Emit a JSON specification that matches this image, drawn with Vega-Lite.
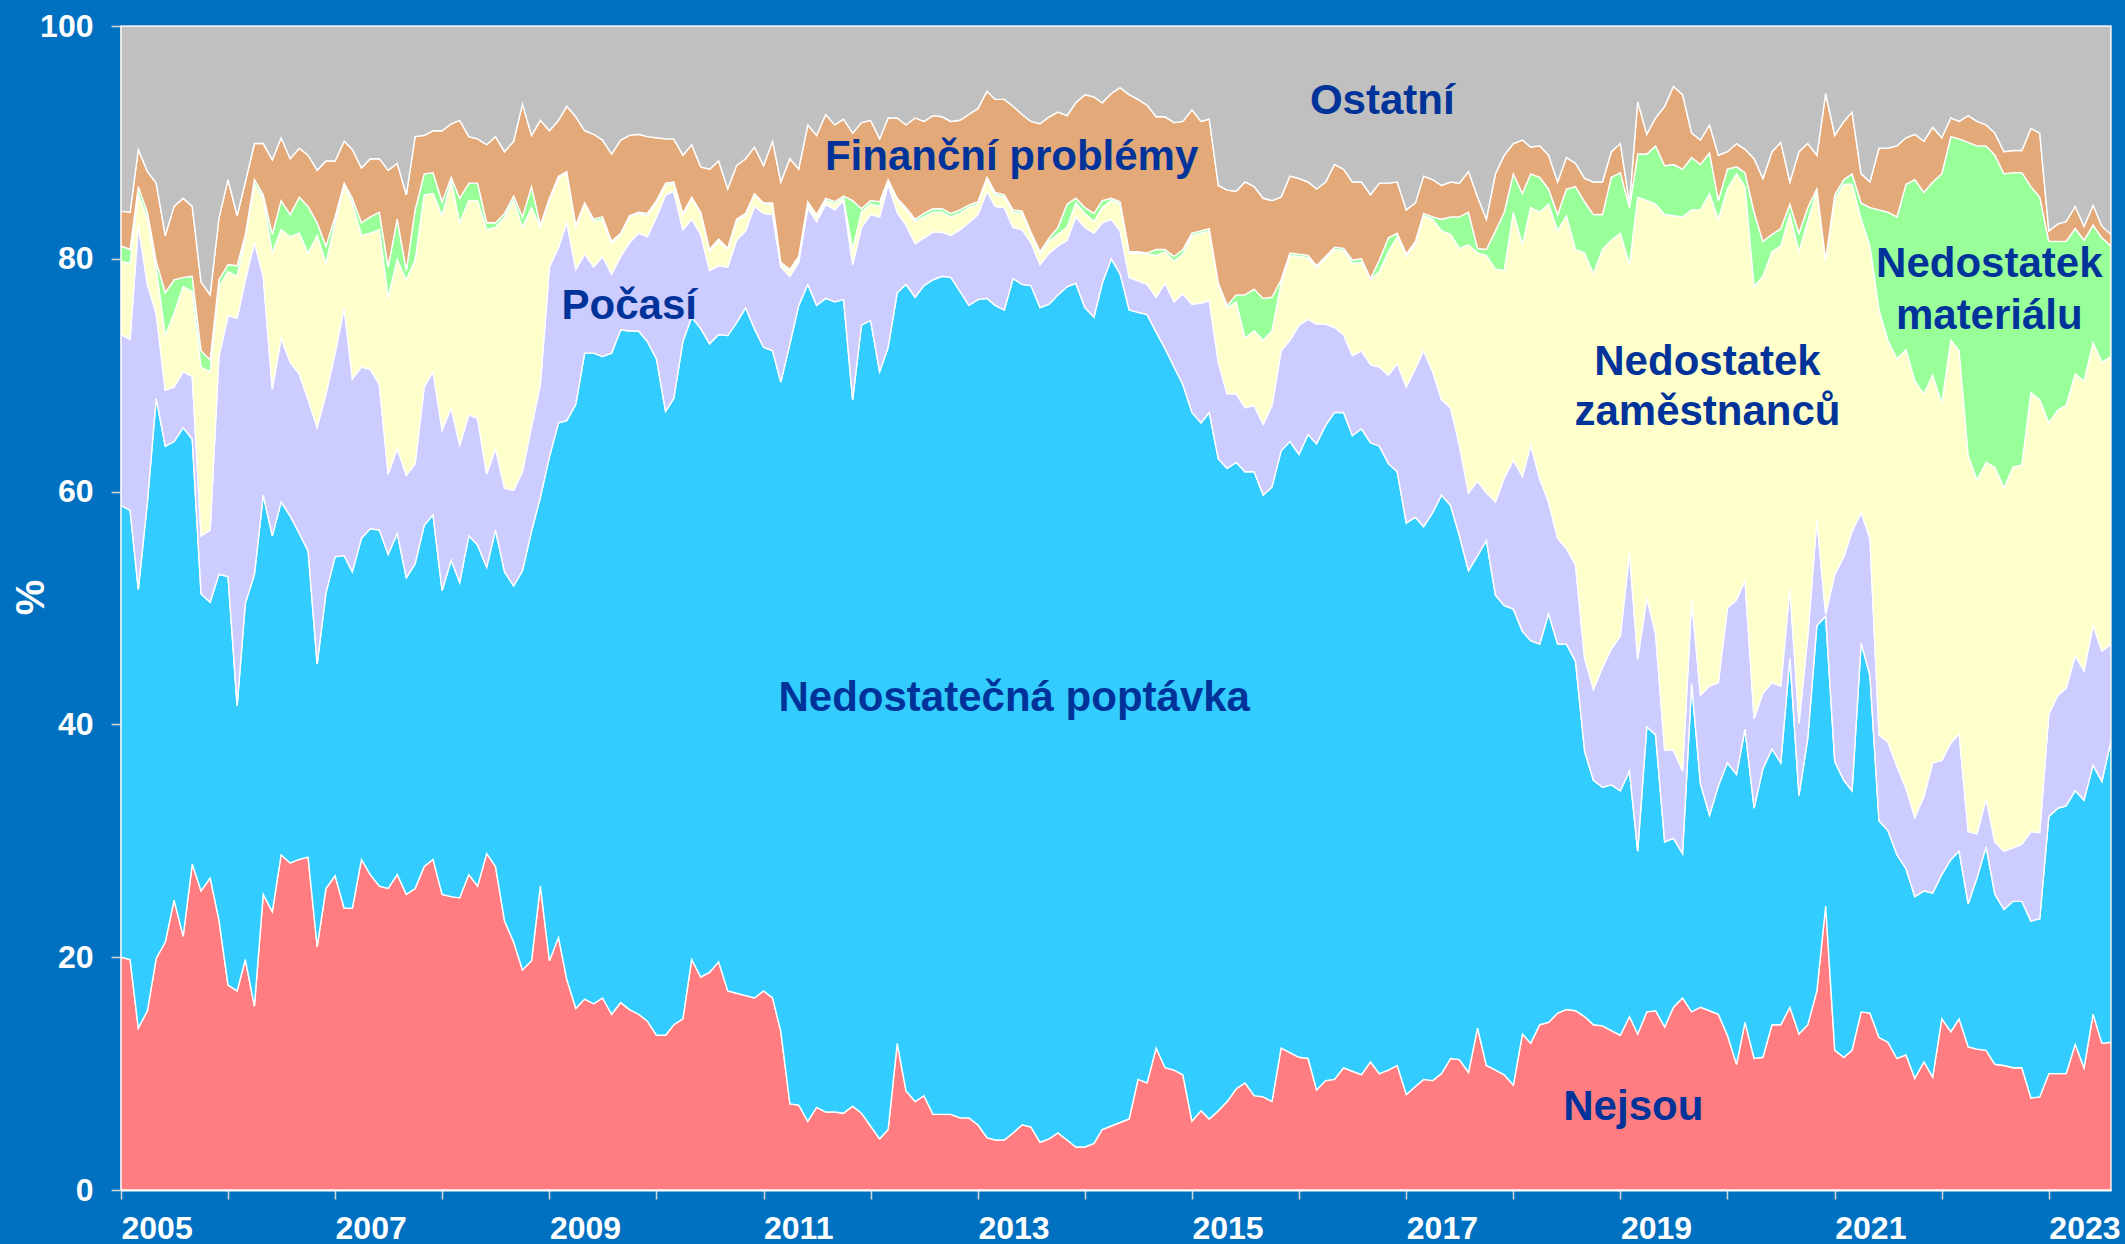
{
  "$schema": "https://vega.github.io/schema/vega-lite/v6.json",
  "width": 1990,
  "height": 1164,
  "autosize": {"type": "none"},
  "padding": {"left": 121, "top": 26, "right": 14, "bottom": 54},
  "background": "#0070C0",
  "config": {"view": {"stroke": "#E6E6E6", "strokeWidth": 1.5}, "font": "Liberation Sans"},
  "layer": [
    {
      "data": {"values": [
{"t":"2005-01-01","a":20.0,"b":38.8,"c":14.7,"d":6.3,"e":1.3,"f":3.0,"g":15.9},
{"t":"2005-02-01","a":19.8,"b":38.6,"c":14.7,"d":6.5,"e":1.2,"f":3.2,"g":16.0},
{"t":"2005-03-01","a":13.9,"b":37.7,"c":31.3,"d":2.7,"e":0.6,"f":3.2,"g":10.6},
{"t":"2005-04-01","a":15.4,"b":43.7,"c":18.7,"d":5.6,"e":0.6,"f":3.5,"g":12.5},
{"t":"2005-05-01","a":19.9,"b":48.1,"c":7.3,"d":3.9,"e":0.6,"f":6.7,"g":13.5},
{"t":"2005-06-01","a":21.3,"b":42.6,"c":4.8,"d":4.7,"e":3.7,"f":4.9,"g":18.0},
{"t":"2005-07-01","a":24.9,"b":39.4,"c":4.7,"d":6.3,"e":2.9,"f":6.3,"g":15.5},
{"t":"2005-08-01","a":21.8,"b":43.7,"c":4.8,"d":7.3,"e":0.8,"f":6.8,"g":14.8},
{"t":"2005-09-01","a":28.0,"b":36.5,"c":5.4,"d":7.3,"e":1.3,"f":6.0,"g":15.5},
{"t":"2005-10-01","a":25.7,"b":25.5,"c":5.0,"d":14.5,"e":1.4,"f":5.9,"g":22.0},
{"t":"2005-11-01","a":26.8,"b":23.7,"c":6.2,"d":13.6,"e":1.0,"f":5.6,"g":23.1},
{"t":"2005-12-01","a":23.2,"b":29.7,"c":18.7,"d":6.0,"e":0.6,"f":5.3,"g":16.5},
{"t":"2006-01-01","a":17.6,"b":35.1,"c":22.4,"d":3.8,"e":0.6,"f":7.3,"g":13.2},
{"t":"2006-02-01","a":17.1,"b":24.5,"c":33.3,"d":3.6,"e":0.9,"f":4.3,"g":16.3},
{"t":"2006-03-01","a":19.8,"b":30.6,"c":27.8,"d":3.6,"e":0.3,"f":4.5,"g":13.4},
{"t":"2006-04-01","a":15.8,"b":37.1,"c":28.5,"d":5.0,"e":0.4,"f":3.1,"g":10.1},
{"t":"2006-05-01","a":25.4,"b":34.3,"c":18.8,"d":6.7,"e":0.3,"f":4.4,"g":10.1},
{"t":"2006-06-01","a":23.9,"b":32.3,"c":12.6,"d":11.7,"e":1.6,"f":6.4,"g":11.5},
{"t":"2006-07-01","a":28.8,"b":30.3,"c":14.1,"d":9.3,"e":2.5,"f":5.4,"g":9.6},
{"t":"2006-08-01","a":28.1,"b":29.8,"c":13.2,"d":10.8,"e":1.9,"f":4.8,"g":11.4},
{"t":"2006-09-01","a":28.4,"b":28.0,"c":13.7,"d":12.1,"e":3.1,"f":4.2,"g":10.5},
{"t":"2006-10-01","a":28.6,"b":26.3,"c":13.0,"d":12.6,"e":4.0,"f":4.4,"g":11.1},
{"t":"2006-11-01","a":20.9,"b":24.3,"c":20.3,"d":16.5,"e":1.1,"f":4.5,"g":12.4},
{"t":"2006-12-01","a":25.9,"b":25.4,"c":17.1,"d":11.2,"e":1.5,"f":7.3,"g":11.6},
{"t":"2007-01-01","a":27.0,"b":27.4,"c":17.5,"d":11.2,"e":0.5,"f":4.8,"g":11.6},
{"t":"2007-02-01","a":24.2,"b":30.3,"c":21.3,"d":10.5,"e":0.2,"f":3.6,"g":9.9},
{"t":"2007-03-01","a":24.2,"b":28.9,"c":16.6,"d":15.1,"e":0.4,"f":4.2,"g":10.6},
{"t":"2007-04-01","a":28.4,"b":27.6,"c":14.7,"d":11.3,"e":1.1,"f":4.7,"g":12.2},
{"t":"2007-05-01","a":27.1,"b":29.7,"c":13.7,"d":11.7,"e":1.4,"f":5.0,"g":11.4},
{"t":"2007-06-01","a":26.1,"b":30.6,"c":12.5,"d":13.3,"e":1.5,"f":4.6,"g":11.4},
{"t":"2007-07-01","a":25.9,"b":28.7,"c":6.9,"d":15.2,"e":2.6,"f":8.3,"g":12.4},
{"t":"2007-08-01","a":27.1,"b":29.3,"c":7.3,"d":16.2,"e":3.5,"f":4.8,"g":11.8},
{"t":"2007-09-01","a":25.4,"b":27.2,"c":8.8,"d":16.8,"e":0.8,"f":6.5,"g":14.5},
{"t":"2007-10-01","a":25.9,"b":27.9,"c":8.6,"d":17.5,"e":4.3,"f":6.3,"g":9.5},
{"t":"2007-11-01","a":27.8,"b":29.3,"c":11.9,"d":16.5,"e":1.8,"f":3.3,"g":9.4},
{"t":"2007-12-01","a":28.4,"b":29.6,"c":12.3,"d":15.3,"e":1.8,"f":3.6,"g":9.0},
{"t":"2008-01-01","a":25.4,"b":26.1,"c":13.8,"d":18.4,"e":1.2,"f":6.1,"g":9.0},
{"t":"2008-02-01","a":25.2,"b":28.9,"c":13.1,"d":19.5,"e":0.3,"f":4.6,"g":8.4},
{"t":"2008-03-01","a":25.1,"b":27.1,"c":11.8,"d":19.1,"e":2.1,"f":6.7,"g":8.1},
{"t":"2008-04-01","a":27.1,"b":29.1,"c":10.4,"d":18.4,"e":1.5,"f":4.0,"g":9.5},
{"t":"2008-05-01","a":26.1,"b":29.3,"c":10.9,"d":18.7,"e":1.5,"f":3.8,"g":9.7},
{"t":"2008-06-01","a":28.9,"b":24.6,"c":8.0,"d":21.0,"e":0.6,"f":6.7,"g":10.2},
{"t":"2008-07-01","a":27.8,"b":28.9,"c":7.0,"d":19.0,"e":0.4,"f":7.4,"g":9.5},
{"t":"2008-08-01","a":23.1,"b":30.0,"c":7.2,"d":23.3,"e":0.3,"f":5.3,"g":10.8},
{"t":"2008-09-01","a":21.3,"b":30.6,"c":8.2,"d":24.9,"e":0.4,"f":4.7,"g":9.9},
{"t":"2008-10-01","a":18.9,"b":34.3,"c":8.5,"d":21.0,"e":0.9,"f":9.7,"g":6.7},
{"t":"2008-11-01","a":19.7,"b":36.9,"c":9.0,"d":18.8,"e":1.8,"f":4.4,"g":9.4},
{"t":"2008-12-01","a":26.1,"b":33.4,"c":9.7,"d":13.5,"e":0.2,"f":9.0,"g":8.1},
{"t":"2009-01-01","a":19.7,"b":43.3,"c":16.3,"d":5.7,"e":0.2,"f":5.8,"g":9.0},
{"t":"2009-02-01","a":21.7,"b":44.2,"c":15.1,"d":5.9,"e":0.2,"f":4.8,"g":8.1},
{"t":"2009-03-01","a":18.1,"b":48.0,"c":17.0,"d":4.3,"e":0.1,"f":5.6,"g":6.9},
{"t":"2009-04-01","a":15.6,"b":51.9,"c":11.6,"d":3.6,"e":0.2,"f":9.3,"g":7.8},
{"t":"2009-05-01","a":16.4,"b":55.5,"c":8.5,"d":4.3,"e":0.1,"f":6.2,"g":9.0},
{"t":"2009-06-01","a":16.0,"b":55.9,"c":7.4,"d":3.9,"e":0.2,"f":7.3,"g":9.3},
{"t":"2009-07-01","a":16.5,"b":55.1,"c":8.6,"d":3.2,"e":0.2,"f":6.6,"g":9.8},
{"t":"2009-08-01","a":15.1,"b":56.8,"c":6.8,"d":2.6,"e":0.2,"f":7.5,"g":11.0},
{"t":"2009-09-01","a":16.1,"b":57.8,"c":6.3,"d":1.9,"e":0.1,"f":8.0,"g":9.8},
{"t":"2009-10-01","a":15.5,"b":58.3,"c":7.6,"d":2.2,"e":0.1,"f":6.9,"g":9.4},
{"t":"2009-11-01","a":15.1,"b":58.7,"c":8.4,"d":1.7,"e":0.1,"f":6.7,"g":9.3},
{"t":"2009-12-01","a":14.5,"b":58.4,"c":9.0,"d":1.8,"e":0.2,"f":6.6,"g":9.5},
{"t":"2010-01-01","a":13.3,"b":58.1,"c":12.2,"d":1.2,"e":0.2,"f":5.4,"g":9.6},
{"t":"2010-02-01","a":13.3,"b":53.6,"c":18.6,"d":0.8,"e":0.2,"f":3.8,"g":9.7},
{"t":"2010-03-01","a":14.2,"b":53.8,"c":17.8,"d":0.7,"e":0.1,"f":3.7,"g":9.7},
{"t":"2010-04-01","a":14.7,"b":58.2,"c":9.6,"d":1.2,"e":0.2,"f":5.0,"g":11.1},
{"t":"2010-05-01","a":19.8,"b":55.2,"c":8.4,"d":1.8,"e":0.1,"f":4.5,"g":10.2},
{"t":"2010-06-01","a":18.3,"b":55.7,"c":8.1,"d":1.8,"e":0.1,"f":3.9,"g":12.1},
{"t":"2010-07-01","a":18.7,"b":54.0,"c":6.3,"d":1.6,"e":0.2,"f":6.9,"g":12.3},
{"t":"2010-08-01","a":19.6,"b":53.9,"c":5.9,"d":2.1,"e":0.2,"f":6.7,"g":11.6},
{"t":"2010-09-01","a":17.1,"b":56.3,"c":5.9,"d":1.5,"e":0.1,"f":5.1,"g":14.0},
{"t":"2010-10-01","a":16.9,"b":57.6,"c":7.1,"d":1.7,"e":0.1,"f":4.6,"g":12.0},
{"t":"2010-11-01","a":16.7,"b":59.1,"c":6.6,"d":1.3,"e":0.2,"f":4.7,"g":11.4},
{"t":"2010-12-01","a":16.5,"b":57.5,"c":10.5,"d":1.0,"e":0.1,"f":4.0,"g":10.4},
{"t":"2011-01-01","a":17.1,"b":55.3,"c":11.5,"d":0.8,"e":0.1,"f":3.2,"g":12.0},
{"t":"2011-02-01","a":16.5,"b":55.6,"c":11.7,"d":0.9,"e":0.1,"f":5.3,"g":9.9},
{"t":"2011-03-01","a":13.6,"b":55.8,"c":9.9,"d":0.2,"e":0.2,"f":6.9,"g":13.4},
{"t":"2011-04-01","a":7.4,"b":65.3,"c":5.8,"d":0.4,"e":0.2,"f":9.5,"g":11.4},
{"t":"2011-05-01","a":7.3,"b":68.7,"c":3.7,"d":0.3,"e":0.2,"f":7.5,"g":12.3},
{"t":"2011-06-01","a":5.9,"b":71.9,"c":6.6,"d":0.3,"e":0.2,"f":6.6,"g":8.5},
{"t":"2011-07-01","a":7.1,"b":68.9,"c":7.2,"d":0.4,"e":0.2,"f":6.8,"g":9.4},
{"t":"2011-08-01","a":6.7,"b":69.9,"c":8.1,"d":0.3,"e":0.2,"f":7.2,"g":7.6},
{"t":"2011-09-01","a":6.7,"b":69.6,"c":7.9,"d":0.5,"e":0.2,"f":6.6,"g":8.5},
{"t":"2011-10-01","a":6.6,"b":69.9,"c":8.5,"d":0.2,"e":0.2,"f":6.6,"g":8.0},
{"t":"2011-11-01","a":7.2,"b":60.7,"c":11.6,"d":1.3,"e":4.2,"f":5.8,"g":9.2},
{"t":"2011-12-01","a":6.6,"b":67.7,"c":8.4,"d":1.3,"e":0.3,"f":7.4,"g":8.3},
{"t":"2012-01-01","a":5.5,"b":69.2,"c":9.1,"d":0.9,"e":0.3,"f":6.9,"g":8.1},
{"t":"2012-02-01","a":4.4,"b":65.9,"c":13.3,"d":0.9,"e":0.4,"f":5.4,"g":9.7},
{"t":"2012-03-01","a":5.2,"b":67.2,"c":14.0,"d":0.2,"e":0.2,"f":5.3,"g":7.9},
{"t":"2012-04-01","a":12.6,"b":64.5,"c":6.9,"d":1.0,"e":0.2,"f":6.9,"g":7.9},
{"t":"2012-05-01","a":8.5,"b":69.3,"c":5.1,"d":1.3,"e":0.2,"f":7.1,"g":8.5},
{"t":"2012-06-01","a":7.6,"b":69.1,"c":4.6,"d":1.9,"e":0.2,"f":8.7,"g":7.9},
{"t":"2012-07-01","a":8.1,"b":69.6,"c":4.1,"d":1.8,"e":0.3,"f":7.9,"g":8.2},
{"t":"2012-08-01","a":6.5,"b":71.7,"c":4.1,"d":1.7,"e":0.3,"f":8.0,"g":7.7},
{"t":"2012-09-01","a":6.5,"b":72.0,"c":3.8,"d":1.7,"e":0.3,"f":7.9,"g":7.8},
{"t":"2012-10-01","a":6.5,"b":71.9,"c":3.6,"d":1.6,"e":0.3,"f":7.9,"g":8.2},
{"t":"2012-11-01","a":6.2,"b":71.0,"c":5.3,"d":1.4,"e":0.3,"f":7.7,"g":8.1},
{"t":"2012-12-01","a":6.2,"b":69.8,"c":7.1,"d":1.3,"e":0.2,"f":7.8,"g":7.6},
{"t":"2013-01-01","a":5.6,"b":70.9,"c":7.3,"d":0.9,"e":0.2,"f":8.0,"g":7.1},
{"t":"2013-02-01","a":4.5,"b":72.1,"c":9.2,"d":1.0,"e":0.2,"f":7.4,"g":5.6},
{"t":"2013-03-01","a":4.3,"b":71.7,"c":8.5,"d":1.0,"e":0.2,"f":8.0,"g":6.3},
{"t":"2013-04-01","a":4.3,"b":71.3,"c":8.8,"d":0.9,"e":0.2,"f":8.2,"g":6.3},
{"t":"2013-05-01","a":4.9,"b":73.4,"c":4.4,"d":1.3,"e":0.2,"f":8.9,"g":6.9},
{"t":"2013-06-01","a":5.6,"b":72.2,"c":4.7,"d":1.4,"e":0.2,"f":8.3,"g":7.6},
{"t":"2013-07-01","a":5.4,"b":72.3,"c":3.7,"d":0.7,"e":0.2,"f":9.5,"g":8.2},
{"t":"2013-08-01","a":4.1,"b":71.7,"c":3.7,"d":0.9,"e":0.2,"f":11.0,"g":8.4},
{"t":"2013-09-01","a":4.4,"b":71.7,"c":4.4,"d":1.0,"e":0.3,"f":10.4,"g":7.8},
{"t":"2013-10-01","a":4.9,"b":72.0,"c":4.2,"d":1.0,"e":0.6,"f":9.9,"g":7.4},
{"t":"2013-11-01","a":4.3,"b":73.3,"c":4.0,"d":1.1,"e":2.0,"f":7.6,"g":7.7},
{"t":"2013-12-01","a":3.7,"b":74.2,"c":5.7,"d":1.2,"e":0.4,"f":8.2,"g":6.6},
{"t":"2014-01-01","a":3.7,"b":72.1,"c":6.9,"d":1.2,"e":0.5,"f":9.7,"g":5.9},
{"t":"2014-02-01","a":4.0,"b":71.0,"c":7.2,"d":1.0,"e":0.7,"f":10.0,"g":6.1},
{"t":"2014-03-01","a":5.2,"b":72.7,"c":5.2,"d":1.3,"e":0.6,"f":8.4,"g":6.6},
{"t":"2014-04-01","a":5.5,"b":74.5,"c":3.4,"d":1.6,"e":0.2,"f":9.0,"g":5.8},
{"t":"2014-05-01","a":5.8,"b":72.9,"c":3.7,"d":2.3,"e":0.2,"f":9.8,"g":5.3},
{"t":"2014-06-01","a":6.1,"b":69.5,"c":2.8,"d":2.1,"e":0.1,"f":13.5,"g":5.9},
{"t":"2014-07-01","a":9.5,"b":65.9,"c":2.7,"d":2.4,"e":0.1,"f":13.1,"g":6.3},
{"t":"2014-08-01","a":9.2,"b":66.0,"c":2.6,"d":2.6,"e":0.1,"f":12.7,"g":6.8},
{"t":"2014-09-01","a":12.2,"b":61.5,"c":3.0,"d":3.6,"e":0.5,"f":11.4,"g":7.8},
{"t":"2014-10-01","a":10.5,"b":61.8,"c":5.6,"d":2.7,"e":0.2,"f":11.4,"g":7.8},
{"t":"2014-11-01","a":10.3,"b":60.4,"c":5.6,"d":3.5,"e":0.4,"f":11.5,"g":8.3},
{"t":"2014-12-01","a":9.9,"b":59.3,"c":7.8,"d":3.4,"e":0.4,"f":11.0,"g":8.2},
{"t":"2015-01-01","a":5.9,"b":60.9,"c":9.3,"d":5.9,"e":0.2,"f":10.6,"g":7.2},
{"t":"2015-02-01","a":6.8,"b":59.1,"c":10.3,"d":6.0,"e":0.2,"f":9.4,"g":8.2},
{"t":"2015-03-01","a":6.1,"b":60.7,"c":9.6,"d":6.0,"e":0.2,"f":9.4,"g":8.0},
{"t":"2015-04-01","a":6.8,"b":56.0,"c":8.3,"d":6.7,"e":0.1,"f":8.4,"g":13.7},
{"t":"2015-05-01","a":7.6,"b":54.4,"c":6.4,"d":7.4,"e":0.2,"f":9.9,"g":14.1},
{"t":"2015-06-01","a":8.7,"b":53.8,"c":5.9,"d":7.9,"e":0.6,"f":8.9,"g":14.2},
{"t":"2015-07-01","a":9.2,"b":52.5,"c":5.5,"d":6.0,"e":3.7,"f":9.7,"g":13.4},
{"t":"2015-08-01","a":8.1,"b":53.6,"c":5.7,"d":6.4,"e":3.6,"f":8.8,"g":13.8},
{"t":"2015-09-01","a":8.0,"b":51.7,"c":6.1,"d":7.2,"e":3.6,"f":8.6,"g":14.8},
{"t":"2015-10-01","a":7.6,"b":52.8,"c":7.0,"d":6.4,"e":2.9,"f":8.3,"g":15.0},
{"t":"2015-11-01","a":12.2,"b":51.3,"c":8.6,"d":5.8,"e":0.3,"f":7.1,"g":14.7},
{"t":"2015-12-01","a":11.8,"b":52.5,"c":8.7,"d":7.3,"e":0.2,"f":6.6,"g":12.9},
{"t":"2016-01-01","a":11.4,"b":51.8,"c":11.1,"d":5.9,"e":0.2,"f":6.5,"g":13.1},
{"t":"2016-02-01","a":11.3,"b":53.6,"c":9.9,"d":5.3,"e":0.2,"f":6.3,"g":13.4},
{"t":"2016-03-01","a":8.6,"b":55.5,"c":10.3,"d":4.8,"e":0.2,"f":6.6,"g":14.0},
{"t":"2016-04-01","a":9.4,"b":56.3,"c":8.7,"d":5.6,"e":0.2,"f":6.4,"g":13.4},
{"t":"2016-05-01","a":9.5,"b":57.3,"c":7.3,"d":6.7,"e":0.2,"f":7.1,"g":11.9},
{"t":"2016-06-01","a":10.5,"b":56.3,"c":6.7,"d":7.2,"e":0.2,"f":6.8,"g":12.3},
{"t":"2016-07-01","a":10.2,"b":54.6,"c":6.9,"d":7.9,"e":0.3,"f":6.7,"g":13.4},
{"t":"2016-08-01","a":9.9,"b":55.5,"c":6.7,"d":7.6,"e":0.3,"f":6.6,"g":13.4},
{"t":"2016-09-01","a":11.0,"b":53.2,"c":6.7,"d":7.3,"e":0.1,"f":7.2,"g":14.5},
{"t":"2016-10-01","a":10.0,"b":53.9,"c":6.8,"d":8.2,"e":1.0,"f":6.6,"g":13.5},
{"t":"2016-11-01","a":10.3,"b":52.1,"c":7.6,"d":10.6,"e":1.2,"f":4.7,"g":13.5},
{"t":"2016-12-01","a":10.7,"b":51.0,"c":9.3,"d":10.9,"e":0.3,"f":4.4,"g":13.4},
{"t":"2017-01-01","a":8.2,"b":49.1,"c":11.7,"d":11.2,"e":0.2,"f":3.8,"g":15.8},
{"t":"2017-02-01","a":8.9,"b":48.9,"c":12.8,"d":10.7,"e":0.2,"f":3.3,"g":15.2},
{"t":"2017-03-01","a":9.5,"b":47.5,"c":15.1,"d":11.6,"e":0.2,"f":3.2,"g":12.9},
{"t":"2017-04-01","a":9.4,"b":48.8,"c":12.1,"d":13.1,"e":0.2,"f":3.2,"g":13.2},
{"t":"2017-05-01","a":10.0,"b":49.7,"c":8.2,"d":14.5,"e":1.0,"f":2.9,"g":13.7},
{"t":"2017-06-01","a":11.3,"b":47.5,"c":8.4,"d":14.9,"e":1.5,"f":3.0,"g":13.4},
{"t":"2017-07-01","a":11.2,"b":45.0,"c":7.8,"d":16.9,"e":2.7,"f":2.9,"g":13.5},
{"t":"2017-08-01","a":10.1,"b":43.1,"c":6.7,"d":21.3,"e":2.8,"f":3.5,"g":12.5},
{"t":"2017-09-01","a":13.9,"b":40.6,"c":6.4,"d":19.6,"e":0.4,"f":4.4,"g":14.7},
{"t":"2017-10-01","a":10.7,"b":45.1,"c":4.1,"d":20.4,"e":0.5,"f":2.6,"g":16.6},
{"t":"2017-11-01","a":10.3,"b":40.8,"c":8.0,"d":20.0,"e":3.3,"f":4.9,"g":12.7},
{"t":"2017-12-01","a":9.9,"b":40.3,"c":11.0,"d":17.8,"e":5.0,"f":4.9,"g":11.1},
{"t":"2018-01-01","a":9.0,"b":40.9,"c":12.8,"d":21.3,"e":3.3,"f":2.6,"g":10.1},
{"t":"2018-02-01","a":13.4,"b":34.6,"c":13.3,"d":19.9,"e":4.4,"f":4.6,"g":9.8},
{"t":"2018-03-01","a":12.6,"b":34.6,"c":16.8,"d":20.4,"e":2.9,"f":2.3,"g":10.4},
{"t":"2018-04-01","a":14.2,"b":32.7,"c":14.2,"d":22.9,"e":3.0,"f":2.7,"g":10.3},
{"t":"2018-05-01","a":14.4,"b":35.1,"c":9.6,"d":25.6,"e":1.3,"f":2.9,"g":11.1},
{"t":"2018-06-01","a":15.2,"b":31.7,"c":9.1,"d":26.4,"e":1.4,"f":2.8,"g":13.4},
{"t":"2018-07-01","a":15.5,"b":31.4,"c":8.2,"d":28.6,"e":2.3,"f":2.7,"g":11.3},
{"t":"2018-08-01","a":15.4,"b":30.0,"c":8.3,"d":27.1,"e":5.4,"f":2.0,"g":11.8},
{"t":"2018-09-01","a":14.9,"b":22.8,"c":8.0,"d":34.8,"e":4.4,"f":2.0,"g":13.1},
{"t":"2018-10-01","a":14.2,"b":21.0,"c":7.8,"d":35.7,"e":5.1,"f":2.8,"g":13.4},
{"t":"2018-11-01","a":14.1,"b":20.5,"c":10.3,"d":35.9,"e":3.0,"f":2.8,"g":13.4},
{"t":"2018-12-01","a":13.7,"b":21.1,"c":11.7,"d":35.1,"e":5.4,"f":2.2,"g":10.8},
{"t":"2019-01-01","a":13.3,"b":21.0,"c":13.3,"d":34.6,"e":5.2,"f":2.5,"g":10.1},
{"t":"2019-02-01","a":14.9,"b":21.1,"c":18.8,"d":24.7,"e":4.9,"f":0.4,"g":15.2},
{"t":"2019-03-01","a":13.4,"b":15.7,"c":16.5,"d":39.7,"e":3.7,"f":4.5,"g":6.5},
{"t":"2019-04-01","a":15.3,"b":24.5,"c":11.1,"d":34.1,"e":4.0,"f":1.7,"g":9.3},
{"t":"2019-05-01","a":15.4,"b":23.7,"c":8.7,"d":36.9,"e":5.0,"f":2.4,"g":7.9},
{"t":"2019-06-01","a":14.0,"b":15.9,"c":7.9,"d":46.0,"e":4.2,"f":5.1,"g":6.9},
{"t":"2019-07-01","a":15.7,"b":14.5,"c":7.6,"d":45.9,"e":4.4,"f":6.7,"g":5.2},
{"t":"2019-08-01","a":16.5,"b":12.4,"c":7.1,"d":47.6,"e":4.1,"f":6.4,"g":5.9},
{"t":"2019-09-01","a":15.3,"b":28.2,"c":7.2,"d":33.5,"e":4.5,"f":2.1,"g":9.2},
{"t":"2019-10-01","a":15.7,"b":19.2,"c":7.6,"d":41.7,"e":3.9,"f":2.1,"g":9.8},
{"t":"2019-11-01","a":15.4,"b":16.8,"c":11.1,"d":42.3,"e":3.5,"f":2.4,"g":8.5},
{"t":"2019-12-01","a":15.1,"b":19.6,"c":8.9,"d":39.8,"e":1.6,"f":3.9,"g":11.1},
{"t":"2020-01-01","a":13.3,"b":23.4,"c":13.3,"d":36.0,"e":1.7,"f":1.5,"g":10.8},
{"t":"2020-02-01","a":10.8,"b":24.9,"c":15.0,"d":36.6,"e":0.6,"f":2.0,"g":10.1},
{"t":"2020-03-01","a":14.4,"b":25.2,"c":12.8,"d":33.8,"e":1.2,"f":2.0,"g":10.6},
{"t":"2020-04-01","a":11.3,"b":21.5,"c":7.7,"d":37.1,"e":6.4,"f":4.6,"g":11.4},
{"t":"2020-05-01","a":11.4,"b":24.8,"c":6.5,"d":35.8,"e":3.0,"f":5.4,"g":13.1},
{"t":"2020-06-01","a":14.2,"b":23.7,"c":5.7,"d":37.0,"e":1.5,"f":7.1,"g":10.8},
{"t":"2020-07-01","a":14.2,"b":22.5,"c":6.6,"d":37.8,"e":1.5,"f":7.4,"g":10.0},
{"t":"2020-08-01","a":15.7,"b":30.0,"c":6.0,"d":32.1,"e":0.9,"f":1.9,"g":13.4},
{"t":"2020-09-01","a":13.4,"b":20.5,"c":6.2,"d":40.5,"e":1.6,"f":7.0,"g":10.8},
{"t":"2020-10-01","a":14.2,"b":24.6,"c":8.8,"d":35.6,"e":1.2,"f":5.5,"g":10.1},
{"t":"2020-11-01","a":17.1,"b":31.4,"c":9.1,"d":28.2,"e":0.2,"f":2.9,"g":11.1},
{"t":"2020-12-01","a":24.4,"b":24.9,"c":0.2,"d":30.3,"e":0.1,"f":14.3,"g":5.8},
{"t":"2021-01-01","a":12.0,"b":24.8,"c":16.1,"d":32.2,"e":0.4,"f":5.1,"g":9.4},
{"t":"2021-02-01","a":11.4,"b":23.8,"c":19.2,"d":32.0,"e":0.4,"f":5.0,"g":8.2},
{"t":"2021-03-01","a":12.0,"b":22.3,"c":22.3,"d":29.8,"e":0.9,"f":5.3,"g":7.4},
{"t":"2021-04-01","a":15.3,"b":31.7,"c":11.2,"d":25.2,"e":1.4,"f":2.5,"g":12.7},
{"t":"2021-05-01","a":15.2,"b":29.0,"c":11.8,"d":25.1,"e":3.3,"f":2.2,"g":13.4},
{"t":"2021-06-01","a":13.1,"b":18.6,"c":7.4,"d":36.5,"e":8.6,"f":5.3,"g":10.5},
{"t":"2021-07-01","a":12.7,"b":18.2,"c":7.6,"d":34.5,"e":11.0,"f":5.5,"g":10.5},
{"t":"2021-08-01","a":11.3,"b":17.5,"c":7.6,"d":35.0,"e":12.2,"f":6.1,"g":10.3},
{"t":"2021-09-01","a":11.6,"b":16.0,"c":6.9,"d":37.7,"e":14.2,"f":4.0,"g":9.6},
{"t":"2021-10-01","a":9.6,"b":15.6,"c":6.8,"d":37.5,"e":17.3,"f":3.9,"g":9.3},
{"t":"2021-11-01","a":11.0,"b":14.7,"c":8.1,"d":34.6,"e":17.3,"f":4.4,"g":9.9},
{"t":"2021-12-01","a":9.7,"b":15.8,"c":11.2,"d":33.3,"e":16.6,"f":4.7,"g":8.7},
{"t":"2022-01-01","a":14.7,"b":12.4,"c":9.8,"d":30.7,"e":19.7,"f":3.1,"g":9.6},
{"t":"2022-02-01","a":13.6,"b":14.8,"c":10.0,"d":34.6,"e":17.5,"f":1.6,"g":7.9},
{"t":"2022-03-01","a":14.7,"b":14.4,"c":10.1,"d":32.9,"e":18.2,"f":1.5,"g":8.2},
{"t":"2022-04-01","a":12.3,"b":12.3,"c":6.2,"d":32.3,"e":26.9,"f":2.3,"g":7.7},
{"t":"2022-05-01","a":12.1,"b":14.7,"c":3.8,"d":30.4,"e":28.7,"f":2.1,"g":8.2},
{"t":"2022-06-01","a":12.0,"b":17.5,"c":4.1,"d":28.9,"e":27.2,"f":1.8,"g":8.5},
{"t":"2022-07-01","a":10.8,"b":14.6,"c":4.5,"d":32.2,"e":26.8,"f":1.9,"g":9.2},
{"t":"2022-08-01","a":10.7,"b":13.4,"c":5.0,"d":31.2,"e":27.0,"f":1.9,"g":10.8},
{"t":"2022-09-01","a":10.5,"b":14.3,"c":4.6,"d":32.7,"e":25.3,"f":1.9,"g":10.7},
{"t":"2022-10-01","a":10.5,"b":14.3,"c":4.9,"d":32.6,"e":25.1,"f":1.9,"g":10.7},
{"t":"2022-11-01","a":7.9,"b":15.2,"c":7.7,"d":37.7,"e":17.7,"f":5.0,"g":8.8},
{"t":"2022-12-01","a":8.0,"b":15.3,"c":7.4,"d":37.2,"e":17.4,"f":5.5,"g":9.2},
{"t":"2023-01-01","a":10.0,"b":22.1,"c":8.8,"d":25.0,"e":15.6,"f":0.9,"g":17.6},
{"t":"2023-02-01","a":10.0,"b":22.8,"c":9.7,"d":24.5,"e":14.5,"f":1.5,"g":17.0},
{"t":"2023-03-01","a":10.0,"b":23.0,"c":10.1,"d":24.3,"e":14.1,"f":1.7,"g":16.8},
{"t":"2023-04-01","a":12.5,"b":21.8,"c":11.6,"d":24.2,"e":12.5,"f":1.9,"g":15.5},
{"t":"2023-05-01","a":10.5,"b":23.0,"c":11.1,"d":24.9,"e":12.1,"f":1.2,"g":17.2},
{"t":"2023-06-01","a":15.1,"b":21.4,"c":12.0,"d":24.3,"e":10.1,"f":1.7,"g":15.4},
{"t":"2023-07-01","a":12.6,"b":22.5,"c":11.2,"d":24.8,"e":10.7,"f":1.0,"g":17.2},
{"t":"2023-08-01","a":12.7,"b":25.9,"c":8.3,"d":24.7,"e":9.5,"f":1.0,"g":17.9}
      ]},
      "transform": [{"fold": ["a", "b", "c", "d", "e", "f", "g"], "as": ["k", "v"]}],
      "mark": {"type": "area", "interpolate": "linear", "stroke": "#FFFFFF", "strokeWidth": 1.4, "clip": true},
      "encoding": {
        "x": {
          "field": "t", "type": "temporal",
          "scale": {"type": "utc", "domain": [{"year": 2005, "month": 1, "date": 1, "utc": true}, {"year": 2023, "month": 8, "date": 1, "utc": true}]},
          "axis": {
            "title": null, "grid": false,
            "values": [
              {"year": 2005, "month": 1, "date": 1, "utc": true}, {"year": 2006, "month": 1, "date": 1, "utc": true},
              {"year": 2007, "month": 1, "date": 1, "utc": true}, {"year": 2008, "month": 1, "date": 1, "utc": true},
              {"year": 2009, "month": 1, "date": 1, "utc": true}, {"year": 2010, "month": 1, "date": 1, "utc": true},
              {"year": 2011, "month": 1, "date": 1, "utc": true}, {"year": 2012, "month": 1, "date": 1, "utc": true},
              {"year": 2013, "month": 1, "date": 1, "utc": true}, {"year": 2014, "month": 1, "date": 1, "utc": true},
              {"year": 2015, "month": 1, "date": 1, "utc": true}, {"year": 2016, "month": 1, "date": 1, "utc": true},
              {"year": 2017, "month": 1, "date": 1, "utc": true}, {"year": 2018, "month": 1, "date": 1, "utc": true},
              {"year": 2019, "month": 1, "date": 1, "utc": true}, {"year": 2020, "month": 1, "date": 1, "utc": true},
              {"year": 2021, "month": 1, "date": 1, "utc": true}, {"year": 2022, "month": 1, "date": 1, "utc": true},
              {"year": 2023, "month": 1, "date": 1, "utc": true}
            ],
            "labelExpr": "utcyear(datum.value) % 2 == 1 ? utcFormat(datum.value, '%Y') : ''",
            "labelAlign": "left", "labelBaseline": "top", "labelPadding": 14,
            "labelFont": "Liberation Sans", "labelFontSize": 32, "labelFontWeight": "bold", "labelColor": "#FFFFFF",
            "labelFlush": false, "labelOverlap": false, "labelBound": false,
            "tickColor": "#D9D9D9", "tickSize": 9, "tickWidth": 1.5,
            "domainColor": "#FFFFFF", "domainWidth": 2
          }
        },
        "y": {
          "field": "v", "type": "quantitative", "stack": "zero",
          "scale": {"domain": [0, 100], "nice": false},
          "axis": {
            "values": [0, 20, 40, 60, 80, 100], "grid": false,
            "title": "%", "titleColor": "#FFFFFF", "titleFont": "Liberation Sans", "titleFontSize": 40, "titleFontWeight": "bold",
            "titleAngle": -90, "titleX": -90, "titleY": 571, "titleAlign": "center", "titleBaseline": "middle",
            "labelFont": "Liberation Sans", "labelFontSize": 32, "labelFontWeight": "bold", "labelColor": "#FFFFFF", "labelPadding": 18,
            "tickColor": "#D9D9D9", "tickSize": 10, "tickWidth": 1.5,
            "domainColor": "#FFFFFF", "domainWidth": 2
          }
        },
        "color": {
          "field": "k", "type": "nominal",
          "scale": {"domain": ["a", "b", "c", "d", "e", "f", "g"], "range": ["#FF7C80", "#33CCFF", "#CCCCFF", "#FFFFCC", "#99FF99", "#E4A978", "#C0C0C0"]},
          "legend": null
        },
        "order": {"field": "k", "sort": "ascending"}
      }
    },
    {
      "data": {"values": [
        {"s": "Ostatní", "t": "2016-10-11", "v": 92.4},
        {"s": "Finanční problémy", "t": "2013-04-26", "v": 87.6},
        {"s": "Počasí", "t": "2009-09-30", "v": 74.8},
        {"s": "Nedostatečná poptávka", "t": "2013-05-05", "v": 41.15},
        {"s": "Nedostatek", "t": "2019-10-25", "v": 70.0},
        {"s": "zaměstnanců", "t": "2019-10-25", "v": 65.7},
        {"s": "Nedostatek", "t": "2022-06-12", "v": 78.4},
        {"s": "materiálu", "t": "2022-06-12", "v": 74.0},
        {"s": "Nejsou", "t": "2019-02-14", "v": 6.0}
      ]},
      "mark": {"type": "text", "font": "Liberation Sans", "fontWeight": "bold", "fontSize": 42, "color": "#003399", "align": "center", "baseline": "alphabetic"},
      "encoding": {
        "x": {"field": "t", "type": "temporal", "scale": {"type": "utc"}},
        "y": {"field": "v", "type": "quantitative"},
        "text": {"field": "s"}
      }
    }
  ]
}
